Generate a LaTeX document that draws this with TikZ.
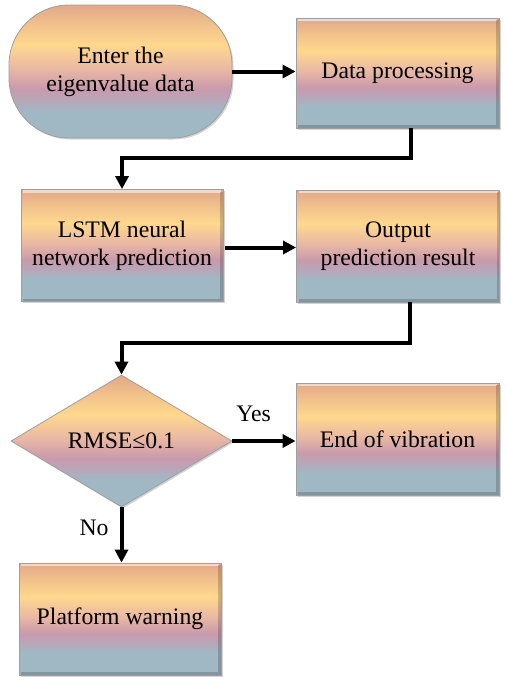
\documentclass[tikz,border=0pt]{standalone}
\usepackage{fontspec}
\setmainfont{Liberation Serif}
\newfontfamily\tnr{Liberation Serif}
\usetikzlibrary{shapes.geometric,arrows.meta,shadows,calc}
\definecolor{cbot}{HTML}{A0B8C4}
\definecolor{cmid1}{HTML}{B6A8BA}
\definecolor{cmauve}{HTML}{C89AAC}
\definecolor{cpeach}{HTML}{EAB8A4}
\definecolor{cyel}{HTML}{FFD88E}
\definecolor{ctop}{HTML}{E2A888}
\pgfdeclareverticalshading{boxshade}{100bp}{color(0bp)=(cbot); color(25bp)=(cbot); color(35bp)=(cbot); color(39bp)=(cmid1); color(43.5bp)=(cmauve); color(51bp)=(cpeach); color(60bp)=(cyel); color(68bp)=(cyel!50!ctop); color(75bp)=(ctop); color(100bp)=(ctop)}
\tikzset{
  box/.style={rectangle, shading=boxshade, draw=gray!75, line width=0.8pt,
    drop shadow={shadow xshift=1.5pt, shadow yshift=-1.5pt, opacity=0.35},
    align=center, inner sep=0pt, font=\tnr\fontsize{23.7}{28}\selectfont},
  bevel/.style={path picture={
    \draw[white, opacity=0.55, line width=3pt]
      ([xshift=2pt,yshift=-1.5pt]path picture bounding box.north west) --
      ([xshift=-2pt,yshift=-1.5pt]path picture bounding box.north east);
    \draw[black, opacity=0.18, line width=3pt]
      ([xshift=-1.5pt,yshift=-2pt]path picture bounding box.north east) --
      ([xshift=-1.5pt,yshift=1.5pt]path picture bounding box.south east) --
      ([xshift=2pt,yshift=1.5pt]path picture bounding box.south west);
  }},
  arr/.style={line width=4pt, -{Triangle[length=13pt,width=13pt]}},
  lbl/.style={font=\tnr\fontsize{23.7}{28}\selectfont, inner sep=0pt}
}
\begin{document}
\begin{tikzpicture}[x=1pt,y=-1pt]
\useasboundingbox (0,0) rectangle (506,681);
\node[box, rounded corners=60pt, minimum width=223pt, minimum height=133pt] (start) at (120.5,71.5) {Enter the\\eigenvalue data};
\node[box, bevel, minimum width=203pt, minimum height=110pt] (dp) at (397.5,73) {Data processing};
\node[box, bevel, minimum width=202pt, minimum height=112pt] (lstm) at (122,245.5) {LSTM neural\\network prediction};
\node[box, bevel, minimum width=203pt, minimum height=112pt] (out) at (398,246) {Output\\prediction result};
\node[box, shape=diamond, aspect=1.67, minimum width=221pt, minimum height=132pt] (dec) at (121.5,441) {RMSE≤0.1};
\node[box, bevel, minimum width=203pt, minimum height=112pt] (end) at (397.5,439) {End of vibration};
\node[box, bevel, minimum width=202pt, minimum height=112pt] (warn) at (120,619) {Platform warning};

\draw[arr] (start.east) -- (start.east -| dp.west);
\coordinate (dpb) at ($(dp.south)+(13,0)$);
\draw[arr] (dpb) -- ++(0,30) -| (lstm.north);
\draw[arr] ($(lstm.east)+(2,2)$) -- ($(lstm.east -| out.west)+(0,2)$);
\coordinate (outb) at ($(out.south)+(12,0)$);
\draw[arr] (outb) -- ++(0,41) -| (dec.north);
\draw[arr] (dec.east) -- (dec.east -| end.west);
\node[lbl] (yes) at (253.5,414) {Yes};
\draw[arr] (dec.south) -- (dec.south |- warn.north);
\node[lbl] (no) at (94,528) {No};
\end{tikzpicture}
\end{document}
